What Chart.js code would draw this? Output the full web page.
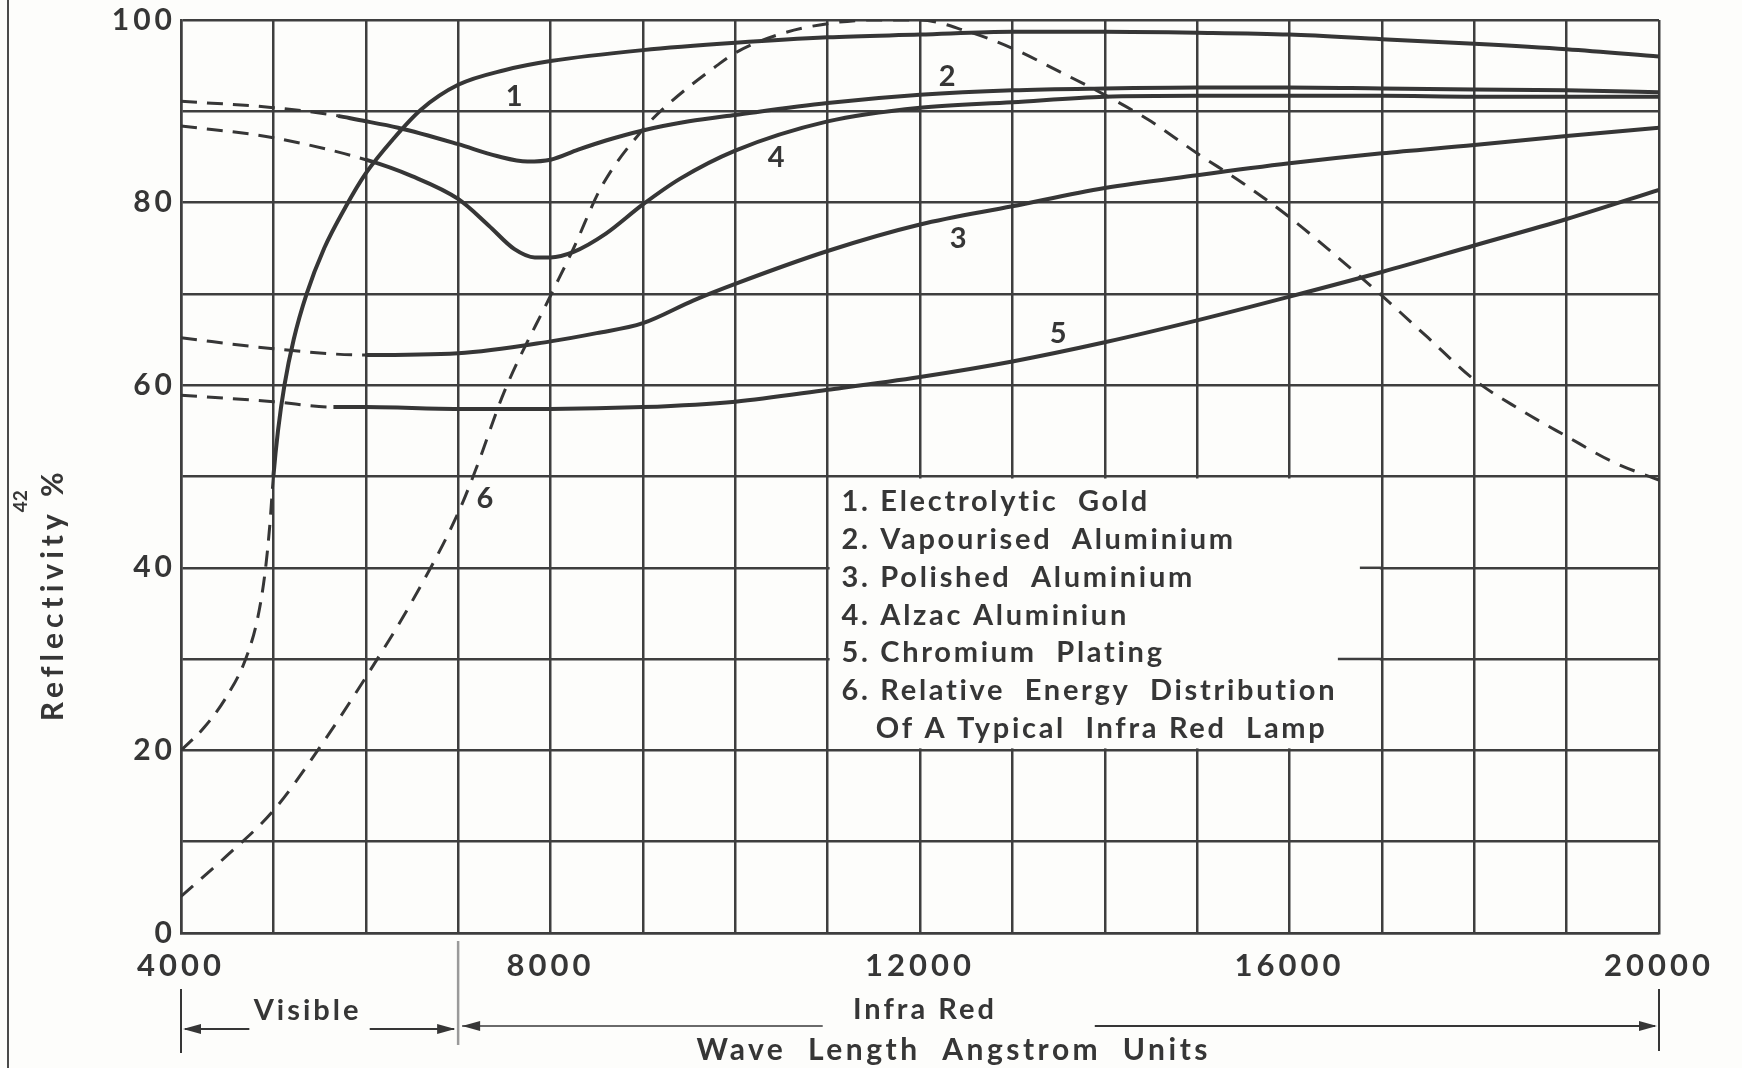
<!DOCTYPE html>
<html>
<head>
<meta charset="utf-8">
<script src="https://cdn.jsdelivr.net/npm/chart.js@4.4.1/dist/chart.umd.min.js"></script>
<style>
  html, body { margin: 0; padding: 0; background: #fdfdfb; }
  canvas { display: block; }
</style>
</head>
<body>
<canvas id="reflectChart" width="1742" height="1068"></canvas>
<script>
// wave length (Angstrom) and reflectivity (%)
const goldX = [4000, 4250, 4500, 4700, 4830, 4910, 4960, 5000, 5050, 5120, 5220, 5360, 5550, 5780, 6000, 6300, 6600, 7000, 7500, 8000, 9000, 10000, 11000, 12000, 13000, 14000, 15000, 16000, 17000, 18000, 19000, 20000];
const goldY = [20, 22.5, 26, 30, 34.5, 39.5, 44.5, 50, 55, 60, 65, 70, 75, 79.5, 83.2, 87, 90.2, 92.9, 94.5, 95.5, 96.7, 97.5, 98.1, 98.4, 98.7, 98.7, 98.6, 98.4, 97.9, 97.4, 96.8, 96];

const vapX = [4000, 5000, 5700, 5900, 6350, 7000, 7420, 7750, 8000, 8300, 8600, 9000, 9500, 10000, 11000, 12000, 13000, 14000, 15000, 16000, 17000, 18000, 19000, 20000];
const vapY = [91.1, 90.4, 89.5, 89.1, 88.2, 86.4, 85.1, 84.5, 84.7, 85.8, 86.8, 87.9, 88.9, 89.6, 90.9, 91.8, 92.3, 92.5, 92.6, 92.6, 92.5, 92.4, 92.3, 92.1];

const polX = [4000, 5000, 6000, 7000, 8000, 8500, 9000, 9550, 10000, 11000, 12000, 13000, 14000, 15000, 16000, 17000, 18000, 19000, 20000];
const polY = [65.2, 64, 63.3, 63.5, 64.8, 65.7, 66.8, 69.3, 71.1, 74.7, 77.6, 79.6, 81.6, 83.0, 84.3, 85.4, 86.3, 87.3, 88.2];

const alzacX = [4000, 5000, 6000, 6500, 7000, 7330, 7610, 7830, 8000, 8250, 8600, 9000, 9400, 10000, 11000, 12000, 13000, 14000, 15000, 16000, 17000, 18000, 19000, 20000];
const alzacY = [88.4, 87.1, 84.7, 82.9, 80.4, 77.5, 74.9, 74.0, 74.0, 74.6, 76.6, 79.8, 82.6, 85.7, 88.9, 90.4, 91.0, 91.6, 91.7, 91.7, 91.7, 91.6, 91.6, 91.6];

const chromX = [4000, 5000, 5650, 6000, 7000, 8000, 9000, 10000, 11000, 12000, 13000, 14000, 15000, 16000, 17000, 18000, 19000, 20000];
const chromY = [58.9, 58.2, 57.6, 57.6, 57.4, 57.4, 57.6, 58.2, 59.5, 60.9, 62.6, 64.7, 67.1, 69.7, 72.4, 75.3, 78.2, 81.4];

const lampX = [4000, 4500, 5000, 5500, 6000, 6500, 7000, 7200, 7500, 8000, 8250, 8550, 9000, 9300, 9800, 10000, 10500, 11000, 11500, 12000, 12500, 13000, 13500, 14000, 14500, 15000, 15500, 16000, 16500, 17000, 17500, 18000, 18500, 19000, 19500, 20000];
const lampY = [4, 8.5, 13.4, 20.3, 28, 36.3, 46, 51, 59.3, 69.8, 75, 81.7, 88, 91, 95, 96.4, 98.5, 99.6, 100, 100, 98.8, 96.9, 94.4, 91.8, 88.9, 85.4, 82.1, 78.4, 74.2, 69.8, 65.2, 60.6, 57.3, 54.4, 51.6, 49.6];

// where each measured curve switches from dashed (extrapolated) to solid
const dashedUntil = { gold: 5000, vap: 5800, pol: 6000, alzac: 6000, chrom: 5650 };

const legendLines = [
    '1. Electrolytic  Gold',
    '2. Vapourised  Aluminium',
    '3. Polished  Aluminium',
    '4. Alzac Aluminiun',
    '5. Chromium  Plating',
    '6. Relative  Energy  Distribution',
    'Of A Typical  Infra Red  Lamp'
];

const curveTags = [
    { t: '1', x: 7606, y: 91.6 },
    { t: '2', x: 12293, y: 93.8 },
    { t: '4', x: 10442, y: 84.9 },
    { t: '3', x: 12413, y: 76.0 },
    { t: '5', x: 13495, y: 65.7 },
    { t: '6', x: 7290, y: 47.6 }
];

const ink = '#363636';
const gridInk = '#3e3e3e';
const fontFam = 'Lato, "DejaVu Sans", sans-serif';

function pairs(xs, ys) {
    return xs.map((x, i) => ({ x: x, y: ys[i] }));
}

function dashBefore(limit) {
    return {
        borderDash: ctx => ctx.p1.parsed.x <= limit ? [16, 10] : undefined,
        borderWidth: ctx => ctx.p1.parsed.x <= limit ? 3 : 4
    };
}

function curve(label, xs, ys, limit) {
    return {
        label: label,
        data: pairs(xs, ys),
        borderColor: ink,
        borderWidth: 4,
        pointRadius: 0,
        cubicInterpolationMode: 'monotone',
        segment: dashBefore(limit)
    };
}

function txt(c, s, x, y, size, align, spacing) {
    c.save();
    c.font = 'bold ' + size + 'px ' + fontFam;
    c.letterSpacing = spacing || '2px';
    c.textAlign = align || 'left';
    c.textBaseline = 'middle';
    c.fillStyle = ink;
    c.fillText(s, x, y);
    c.restore();
}

function line(c, x1, y1, x2, y2, color, w) {
    c.save();
    c.strokeStyle = color || ink;
    c.lineWidth = w || 2;
    c.beginPath();
    c.moveTo(x1, y1);
    c.lineTo(x2, y2);
    c.stroke();
    c.restore();
}

function arrowHead(c, x, y, dir) {
    c.save();
    c.fillStyle = ink;
    c.beginPath();
    c.moveTo(x, y);
    c.lineTo(x - dir * 18, y - 5);
    c.lineTo(x - dir * 18, y + 5);
    c.closePath();
    c.fill();
    c.restore();
}

const platePlugin = {
    id: 'plate',
    beforeDraw(chart) {
        const c = chart.ctx;
        c.save();
        c.fillStyle = '#fdfdfb';
        c.fillRect(0, 0, chart.width, chart.height);
        c.restore();
        // wide drafting-style spacing for the tick labels
        c.letterSpacing = '4px';
    },
    beforeDatasetsDraw(chart) {
        const c = chart.ctx;
        const xs = chart.scales.x, ys = chart.scales.y;
        // legend panel sits on top of the grid
        const l = xs.getPixelForValue(11000), r = xs.getPixelForValue(17000);
        const t = ys.getPixelForValue(50), b = ys.getPixelForValue(20);
        c.save();
        c.fillStyle = '#fdfdfb';
        c.fillRect(l + 2, t + 2, r - l - 4, b - t - 4);
        c.restore();
        line(c, r, ys.getPixelForValue(40), r - 22, ys.getPixelForValue(40), gridInk, 2.5);
        line(c, r, ys.getPixelForValue(30), r - 44, ys.getPixelForValue(30), gridInk, 2.5);

        legendLines.forEach((s, i) => {
            const x = xs.getPixelForValue(i === legendLines.length - 1 ? 11520 : 11150);
            txt(c, s, x, ys.getPixelForValue(47.2 - i * 4.13), 29, 'left', '2.7px');
        });
    },
    afterDraw(chart) {
        const c = chart.ctx;
        const xs = chart.scales.x, ys = chart.scales.y;
        const area = chart.chartArea;

        curveTags.forEach(tag => {
            txt(c, tag.t, xs.getPixelForValue(tag.x), ys.getPixelForValue(tag.y), 29, 'center', '0px');
        });

        // y axis title and stray page number
        c.save();
        c.translate(53, ys.getPixelForValue(37.1));
        c.rotate(-Math.PI / 2);
        txt(c, 'Reflectivity %', 0, 0, 30, 'center', '5px');
        c.restore();
        c.save();
        c.translate(21, ys.getPixelForValue(47.3));
        c.rotate(-Math.PI / 2);
        txt(c, '42', 0, 0, 19, 'center', '0px');
        c.restore();

        // page edge
        line(c, 8, 0, 8, chart.height, '#4a4a4a', 2);

        // visible / infra red brackets below the axis
        const bot = area.bottom;
        const x4 = xs.getPixelForValue(4000), x7 = xs.getPixelForValue(7000), x20 = xs.getPixelForValue(20000);
        line(c, x7, bot + 8, x7, bot + 112, '#9a9a9a', 2.5);
        line(c, x4, bot + 56, x4, bot + 120, ink, 2);
        line(c, x20, bot + 56, x20, bot + 118, ink, 2);

        const vy = bot + 96;
        line(c, x4 + 4, vy, xs.getPixelForValue(4740), vy, ink, 2);
        arrowHead(c, x4 + 2, vy, -1);
        line(c, xs.getPixelForValue(6043), vy, x7 - 4, vy, ink, 2);
        arrowHead(c, x7 - 3, vy, 1);
        txt(c, 'Visible', xs.getPixelForValue(5370), bot + 78, 29, 'center', '3px');

        const iy = bot + 93;
        line(c, x7 + 4, iy, xs.getPixelForValue(10947), iy, '#6a6a6a', 2);
        arrowHead(c, x7 + 4, iy, -1);
        line(c, xs.getPixelForValue(13892), iy, x20 - 4, iy, ink, 2);
        arrowHead(c, x20 - 2, iy, 1);
        txt(c, 'Infra Red', xs.getPixelForValue(12053), bot + 77, 29, 'center', '3px');

        txt(c, 'Wave  Length  Angstrom  Units', xs.getPixelForValue(12365), bot + 117, 30, 'center', '3.5px');
    }
};

const chart = new Chart(document.getElementById('reflectChart').getContext('2d'), {
    type: 'line',
    data: {
        datasets: [
            curve('Electrolytic Gold', goldX, goldY, dashedUntil.gold),
            curve('Vapourised Aluminium', vapX, vapY, dashedUntil.vap),
            curve('Polished Aluminium', polX, polY, dashedUntil.pol),
            curve('Alzac Aluminium', alzacX, alzacY, dashedUntil.alzac),
            curve('Chromium Plating', chromX, chromY, dashedUntil.chrom),
            {
                label: 'Relative Energy Distribution',
                data: pairs(lampX, lampY),
                borderColor: ink,
                borderWidth: 3,
                borderDash: [16, 11],
                pointRadius: 0,
                cubicInterpolationMode: 'monotone'
            }
        ]
    },
    options: {
        responsive: false,
        devicePixelRatio: 1,
        animation: false,
        layout: { padding: { top: 20, right: 83, left: 0, bottom: 0 } },
        plugins: { legend: { display: false }, tooltip: { enabled: false } },
        scales: {
            x: {
                type: 'linear',
                min: 4000,
                max: 20000,
                afterFit: s => { s.height = 135; s.paddingLeft = 0; s.paddingRight = 0; },
                ticks: {
                    stepSize: 1000,
                    autoSkip: false,
                    maxRotation: 0,
                    padding: 14,
                    color: ink,
                    font: { family: fontFam, size: 31, weight: 'bold' },
                    callback: v => v % 4000 === 0 ? String(v) : ''
                },
                grid: { color: gridInk, lineWidth: 2.5, drawTicks: false },
                border: { color: gridInk, width: 2.5 }
            },
            y: {
                min: 0,
                max: 100,
                afterFit: s => { s.width = 181; s.paddingTop = 0; s.paddingBottom = 0; },
                ticks: {
                    stepSize: 10,
                    padding: 5,
                    color: ink,
                    font: { family: fontFam, size: 30, weight: 'bold' },
                    callback: v => v % 20 === 0 ? String(v) : ''
                },
                grid: { color: gridInk, lineWidth: 2.5, drawTicks: false },
                border: { color: gridInk, width: 2.5 }
            }
        }
    },
    plugins: [platePlugin]
});
</script>
</body>
</html>
